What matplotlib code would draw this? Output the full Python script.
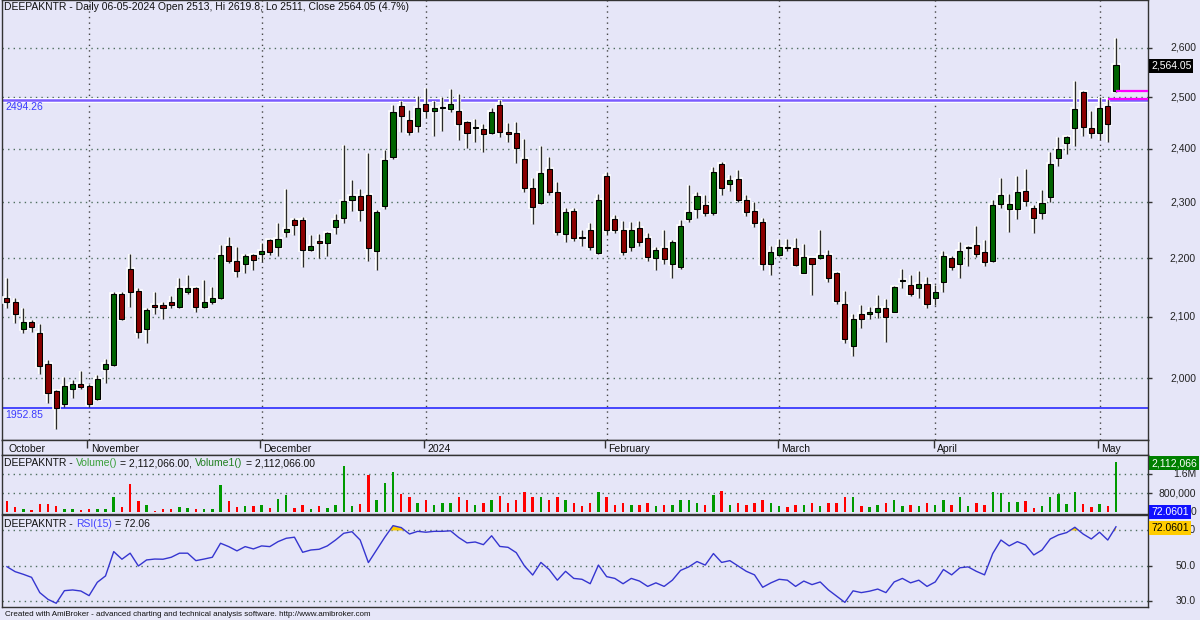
import numpy as np
import matplotlib
matplotlib.use('Agg')
import matplotlib.pyplot as plt
from matplotlib.ticker import NullLocator
from matplotlib.transforms import blended_transform_factory

plt.rcParams['font.family'] = ['Liberation Sans', 'DejaVu Sans']

# daily candles, 17-10-2023 .. 06-05-2024
opens = [2131, 2124, 2080, 2092, 2073, 2022, 1979, 1959, 1983, 1990,
         1988, 1967, 2014, 2021, 2139, 2182, 2144, 2080, 2120, 2119,
         2124, 2117, 2141, 2148, 2117, 2124, 2132, 2222, 2195, 2190,
         2205, 2208, 2232, 2220, 2247, 2268, 2268, 2215, 2230, 2227,
         2256, 2272, 2305, 2311, 2313, 2213, 2293, 2385, 2483, 2455,
         2444, 2487, 2473, 2479, 2477, 2473, 2451, 2440, 2438, 2430,
         2485, 2432, 2430, 2380, 2327, 2298, 2362, 2318, 2243, 2284,
         2238, 2249, 2209, 2349, 2270, 2250, 2220, 2254, 2236, 2200,
         2217, 2190, 2184, 2270, 2288, 2295, 2280, 2371, 2334, 2343,
         2305, 2284, 2264, 2190, 2205, 2220, 2218, 2175, 2200, 2200,
         2205, 2175, 2122, 2051, 2105, 2105, 2108, 2115, 2108, 2160,
         2154, 2149, 2156, 2132, 2158, 2200, 2190, 2217, 2224, 2211,
         2195, 2296, 2288, 2288, 2320, 2290, 2280, 2309, 2382, 2411,
         2440, 2511, 2440, 2430, 2483, 2513]
highs = [2166, 2132, 2115, 2095, 2088, 2029, 1981, 2002, 1997, 2012,
         1991, 2005, 2030, 2142, 2141, 2208, 2148, 2115, 2141, 2125,
         2134, 2165, 2170, 2150, 2163, 2151, 2224, 2238, 2220, 2207,
         2208, 2227, 2234, 2262, 2325, 2272, 2273, 2241, 2243, 2247,
         2279, 2407, 2341, 2325, 2391, 2286, 2398, 2485, 2493, 2475,
         2502, 2519, 2493, 2500, 2517, 2507, 2453, 2457, 2447, 2479,
         2495, 2449, 2451, 2419, 2345, 2405, 2384, 2338, 2290, 2290,
         2249, 2263, 2316, 2356, 2277, 2266, 2264, 2266, 2245, 2220,
         2250, 2232, 2268, 2332, 2318, 2313, 2365, 2374, 2350, 2360,
         2313, 2300, 2272, 2222, 2234, 2234, 2236, 2225, 2201, 2249,
         2215, 2176, 2144, 2105, 2120, 2117, 2137, 2129, 2152, 2182,
         2170, 2178, 2168, 2153, 2212, 2203, 2229, 2222, 2257, 2232,
         2304, 2345, 2316, 2349, 2362, 2295, 2323, 2393, 2423, 2425,
         2533, 2512, 2473, 2500, 2497, 2619.8]
lows = [2115, 2090, 2073, 2075, 2007, 1961, 1921, 1955, 1969, 1983,
        1955, 1966, 1993, 2019, 2095, 2117, 2065, 2056, 2105, 2097,
        2114, 2115, 2139, 2108, 2115, 2122, 2130, 2191, 2168, 2175,
        2180, 2193, 2205, 2203, 2238, 2240, 2184, 2212, 2200, 2204,
        2243, 2262, 2284, 2266, 2195, 2180, 2288, 2380, 2432, 2426,
        2432, 2459, 2425, 2434, 2471, 2417, 2402, 2413, 2394, 2428,
        2423, 2413, 2373, 2318, 2261, 2296, 2314, 2240, 2229, 2231,
        2222, 2214, 2207, 2240, 2245, 2205, 2212, 2222, 2195, 2179,
        2190, 2165, 2182, 2264, 2272, 2275, 2277, 2314, 2320, 2300,
        2275, 2255, 2180, 2170, 2203, 2212, 2186, 2175, 2136, 2198,
        2158, 2122, 2056, 2035, 2082, 2097, 2098, 2059, 2108, 2149,
        2134, 2131, 2115, 2120, 2141, 2180, 2165, 2186, 2202, 2186,
        2193, 2290, 2247, 2270, 2293, 2245, 2270, 2300, 2367, 2389,
        2406, 2425, 2421, 2417, 2413, 2511]
closes = [2124, 2105, 2092, 2083, 2019, 1977, 1952.85, 1988, 1991, 1986,
          1959, 1998, 2022, 2139, 2097, 2142, 2075, 2111, 2117, 2114,
          2119, 2149, 2148, 2117, 2125, 2132, 2205, 2195, 2177, 2203,
          2197, 2213, 2210, 2234, 2252, 2259, 2215, 2222, 2227, 2245,
          2268, 2303, 2311, 2286, 2217, 2282, 2378, 2471, 2463, 2432,
          2479, 2473, 2479, 2480, 2487, 2447, 2430, 2441, 2428, 2471,
          2432, 2428, 2402, 2327, 2291, 2354, 2318, 2247, 2282, 2236,
          2236, 2219, 2305, 2249, 2249, 2210, 2249, 2229, 2202, 2215,
          2198, 2229, 2257, 2282, 2311, 2280, 2356, 2327, 2341, 2305,
          2282, 2262, 2190, 2211, 2220, 2218, 2188, 2202, 2190, 2205,
          2165, 2126, 2063, 2097, 2097, 2108, 2115, 2099, 2151, 2161,
          2138, 2156, 2122, 2141, 2203, 2184, 2213, 2220, 2207, 2193,
          2295, 2314, 2297, 2318, 2303, 2272, 2298, 2371, 2400, 2423,
          2477, 2442, 2430, 2479, 2447, 2564.05]
volume_k = [450, 210, 140, 100, 350, 320, 240, 140, 140, 100,
            110, 140, 140, 630, 210, 1160, 450, 280, 40, 140,
            110, 210, 170, 140, 140, 110, 1120, 450, 210, 240,
            240, 280, 170, 560, 730, 170, 280, 140, 250, 170,
            280, 1930, 250, 320, 1570, 520, 1230, 1680, 770, 630,
            380, 500, 300, 380, 380, 630, 500, 300, 380, 500,
            660, 380, 500, 840, 630, 630, 500, 630, 500, 380,
            250, 380, 840, 630, 300, 380, 300, 300, 380, 250,
            300, 300, 500, 500, 380, 300, 720, 880, 300, 380,
            300, 380, 500, 380, 250, 200, 300, 300, 380, 250,
            380, 380, 630, 630, 250, 200, 300, 380, 500, 250,
            300, 250, 380, 300, 500, 300, 630, 250, 380, 300,
            840, 800, 420, 420, 450, 170, 240, 630, 770, 320,
            840, 320, 210, 320, 240, 2112.066]
rsi15 = [49.6, 46.8, 45.3, 43.6, 35, 31.2, 29, 36.1, 36.5, 35.9,
         33.3, 40.8, 44.4, 58.1, 53.8, 57.2, 50, 53.4, 53.9, 53.8,
         54.9, 57.2, 57.2, 53, 53.9, 54.9, 62.8, 60.9, 58.5, 60.9,
         59.6, 61.3, 60.9, 63.7, 65.6, 66.2, 57.7, 59, 59.4, 61.3,
         64.6, 68.4, 69.3, 64.6, 51.9, 59, 66.2, 72.7, 71.6, 68,
         69.5, 69, 69.5, 69.5, 69.8, 66, 63, 63.5, 62, 67,
         61, 60.5, 57.5, 50, 44.9, 52, 48, 42, 47, 43,
         42.5, 40, 50.5, 44, 43, 40, 43, 41.5, 38.5, 40.5,
         38.5, 42, 47.5, 49.5, 52.5, 50.5, 57, 52, 53, 50,
         47, 45, 38, 40.5, 42.5, 42, 38.5, 41.5, 39.5, 41,
         36.5, 33, 29.5, 36, 35, 35.8, 37, 35, 41, 43,
         40.5, 42, 38.5, 41, 48, 45, 49, 49.5, 47, 45,
         57, 64.6, 61.3, 63.7, 61.8, 56.2, 59, 65.2, 67.5, 68.8,
         71.8, 68, 65.2, 69, 64.6, 72.06]

month_labels = ['October', 'November', 'December', '2024', 'February', 'March', 'April', 'May']
month_start = [0, 10, 31, 51, 73, 94, 113, 133]
price_ticks = [2000, 2100, 2200, 2300, 2400, 2500, 2600]
high_line = 2494.26
low_line = 1952.85
magenta_lines = [(134, 2497), (135, 2513)]

BG = '#E6E6F8'
W, H = 1200, 620
FS = 7.5
fig = plt.figure(figsize=(12, 6.2), dpi=100, facecolor=BG)


def px_axes(x0, y0, x1, y1):
    a = fig.add_axes([x0 / W, 1 - y1 / H, (x1 - x0) / W, (y1 - y0) / H], facecolor=BG)
    for s in a.spines.values():
        s.set_color('#333333')
        s.set_linewidth(1)
    a.set_xticks([])
    a.set_xlim(-0.6, 138.9)
    return a


def ftext(x, y, s, **kw):
    return fig.text(x / W, 1 - y / H, s, va='center', **kw)


def parts_text(x, y, parts, size=FS):
    r = fig.canvas.get_renderer()
    for s, col in parts:
        t = ftext(x, y, s, color=col, fontsize=size)
        x += t.get_window_extent(r).width + 3


def right_labels(a, vals, labels):
    tr = blended_transform_factory(fig.transFigure, a.transData)
    for v, lab in zip(vals, labels):
        a.text(1196 / W, v, lab, transform=tr, ha='right', va='center',
               fontsize=FS, color='#222222', clip_on=False)
    a.set_yticks(vals)
    a.yaxis.set_minor_locator(NullLocator())
    a.tick_params(axis='y', which='both', left=False, right=True, labelleft=False,
                  labelright=False, length=3, width=1, color='#333333')


dots = (0, (1, 3))
o, h, l, c = map(np.array, (opens, highs, lows, closes))
x = np.arange(len(c))
up = c >= o

# price pane
ax = px_axes(2, 0, 1148, 440)
ax.set_yscale('log')
ax.set_ylim(1904, 2701)
for p in price_ticks:
    ax.axhline(p, color='#4f6f5f', ls=dots, lw=1, zorder=1)
for m in month_start[1:]:
    ax.axvline(m, color='#444444', ls=dots, lw=1, zorder=1)
right_labels(ax, price_ticks, [f'{p:,}' for p in price_ticks])

lt = blended_transform_factory(ax.transAxes, ax.transData)
ax.axhline(high_line, color='white', lw=3.5, zorder=1.5)
ax.axhline(high_line, color='#7b5cff', lw=1.8, zorder=1.6)
ax.axhline(low_line, color='#2b2bff', lw=1.2, zorder=1.6)
ax.text(3 / 1146, high_line * 0.9985, f'{high_line:.2f}', transform=lt, va='top', fontsize=FS, color='#3a3aff')
ax.text(3 / 1146, low_line * 0.9985, f'{low_line:.2f}', transform=lt, va='top', fontsize=FS, color='#3a3aff')

body_lo = np.minimum(o, c)
body_h = np.maximum(np.abs(c - o), 1.5)
ax.vlines(x, l, h, color='white', lw=3, zorder=2)
ax.bar(x, body_h, bottom=body_lo, width=0.62, color='none', edgecolor='white', lw=2.6, zorder=3)
ax.vlines(x, l, h, color='#2a2a2a', lw=1, zorder=4)
ax.bar(x, body_h, bottom=body_lo, width=0.62, color=np.where(up, '#006400', '#8b0000'),
       edgecolor='black', lw=0.8, zorder=5)
for i0, lev in magenta_lines:
    ax.hlines(lev, i0, 138.9, color='#ff00ff', lw=1.6, zorder=6)

ftext(4, 7, 'DEEPAKNTR - Daily 06-05-2024 Open 2513, Hi 2619.8, Lo 2511, Close 2564.05 (4.7%)',
      fontsize=FS, color='#111111')
ftext(1151, 66, f'{closes[-1]:,.2f}', fontsize=FS, color='white',
      bbox=dict(boxstyle='square,pad=0.2', fc='black', ec='none'))

# month strip
axd = px_axes(2, 440, 1148, 455)
axd.set_ylim(0, 1)
axd.set_yticks([])
for m, lab in zip(month_start, month_labels):
    if m > 0:
        axd.vlines(m - 0.2, 0.45, 1, color='#333333', lw=1)
    axd.text(m + 0.2, 0.42, lab, fontsize=FS, va='center', color='#111111')

# volume pane
axv = px_axes(2, 455, 1148, 514)
vol = np.array(volume_k) * 1000
axv.set_ylim(-84000, 2400000)
for v in (800000, 1600000):
    axv.axhline(v, color='#4f6f5f', ls=dots, lw=1, zorder=1)
axv.bar(x, vol, width=0.3, color=np.where(up, '#009a00', '#ff0000'), zorder=2)
right_labels(axv, [0, 800000, 1600000], ['0', '800,000', '1.6M'])
parts_text(4, 463, [('DEEPAKNTR -', '#111111'), ('Volume()', '#3aa03a'), ('= 2,112,066.00,', '#111111'),
                    ('Volume1()', '#1f7f1f'), ('= 2,112,066.00', '#111111')])
ftext(1151, 463, '2,112,066', fontsize=FS, color='white',
      bbox=dict(boxstyle='square,pad=0.2', fc='#008000', ec='none'))

# rsi pane
axr = px_axes(2, 515, 1148, 607)
rsi = np.array(rsi15)
axr.set_ylim(26.9, 78.7)
for v in (30, 50, 70):
    axr.axhline(v, color='#4f6f5f', ls=dots, lw=1, zorder=1)
axr.fill_between(x, rsi, 70, where=rsi > 70, interpolate=True, color='#ffcc00', lw=0, zorder=2)
axr.plot(x, rsi, color='#3535d0', lw=1, zorder=3)
right_labels(axr, [30, 50, 70], ['30.0', '50.0', '70.0'])
parts_text(4, 524, [('DEEPAKNTR -', '#111111'), ('RSI(15)', '#4040ff'), ('= 72.06', '#111111')])
ftext(1151, 512, '72.0601', fontsize=FS, color='white',
      bbox=dict(boxstyle='square,pad=0.2', fc='#1010ff', ec='none'))
ftext(1151, 528, '72.0601', fontsize=FS, color='black',
      bbox=dict(boxstyle='square,pad=0.2', fc='#ffcc00', ec='none'))

ftext(5, 614, 'Created with AmiBroker - advanced charting and technical analysis software. http://www.amibroker.com',
      fontsize=5.8, color='#111111')

fig.savefig('out.png', dpi=100, facecolor=BG)
